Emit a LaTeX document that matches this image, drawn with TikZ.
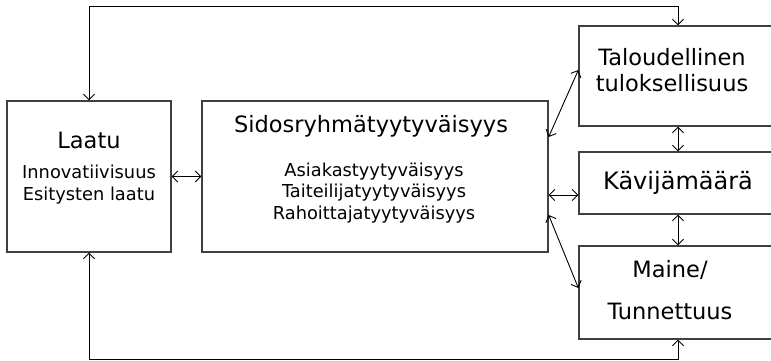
\documentclass[tikz,border=0pt]{standalone}
\usepackage{fontspec}
\setmainfont{DejaVu Sans}
\usetikzlibrary{arrows.meta}

\begin{document}
\begin{tikzpicture}[
  x=1pt, y=-1pt,
  box/.style={draw=black!75, line width=1.3pt, inner sep=0pt},
  big/.style={font=\fontsize{22.5}{26}\selectfont, align=center, inner sep=0pt},
  small/.style={font=\fontsize{17.8}{21.5}\selectfont, align=center, inner sep=0pt},
  link/.style={{Straight Barb[length=5.5pt,width=11pt]}-{Straight Barb[length=5.5pt,width=11pt]}, line width=0.9pt}
]
\useasboundingbox (0,0) rectangle (771,361);
\clip (0,0) rectangle (771,361);

% boxes
\node[box, minimum width=164pt, minimum height=151pt] (laatu) at (89,176.5) {};
\node[box, minimum width=346pt, minimum height=151pt] (sidos) at (375,176.5) {};
\node[box, minimum width=198pt, minimum height=100pt] (talous) at (678,76) {};
\node[box, minimum width=198pt, minimum height=62pt] (kavija) at (678,183) {};
\node[box, minimum width=198pt, minimum height=93pt] (maine) at (678,292.5) {};

% texts
\node[big] (laatuT) at (89,140) {Laatu};
\node[small] (laatuD) at (89,184.5) {Innovatiivisuus\\Esitysten laatu};
\node[big] (sidosT) at (371,126) {Sidosryhmätyytyväisyys};
\node[small] (sidosD) at (374,193) {Asiakastyytyväisyys\\Taiteilijatyytyväisyys\\Rahoittajatyytyväisyys};
\node[big] (talousT) at (672,70) {Taloudellinen\\tuloksellisuus};
\node[big, font=\fontsize{24}{26}\selectfont] (kavijaT) at (678,183) {Kävijämäärä};
\node[big] (maineT) at (670,290) {Maine/\\[16pt]Tunnettuus};

% connections
\coordinate (top) at (0,6);
\coordinate (bottom) at (0,359);
\draw[link] (talous.north) -- (talous.north |- top) -| (laatu.north);
\draw[link] (maine.south) -- (maine.south |- bottom) -| (laatu.south);
\draw[link] (laatu) -- (sidos);
\draw[link] ([yshift=39.5pt]sidos.east) -- ([yshift=6pt]talous.west);
\draw[link] ([yshift=-18.5pt]sidos.east) -- ([yshift=-18.5pt]sidos.east -| kavija.west);
\draw[link] ([yshift=-38.5pt]sidos.east) -- ([yshift=4.5pt]maine.west);
\draw[link] (talous) -- (kavija);
\draw[link] (kavija) -- (maine);
\end{tikzpicture}
\end{document}
